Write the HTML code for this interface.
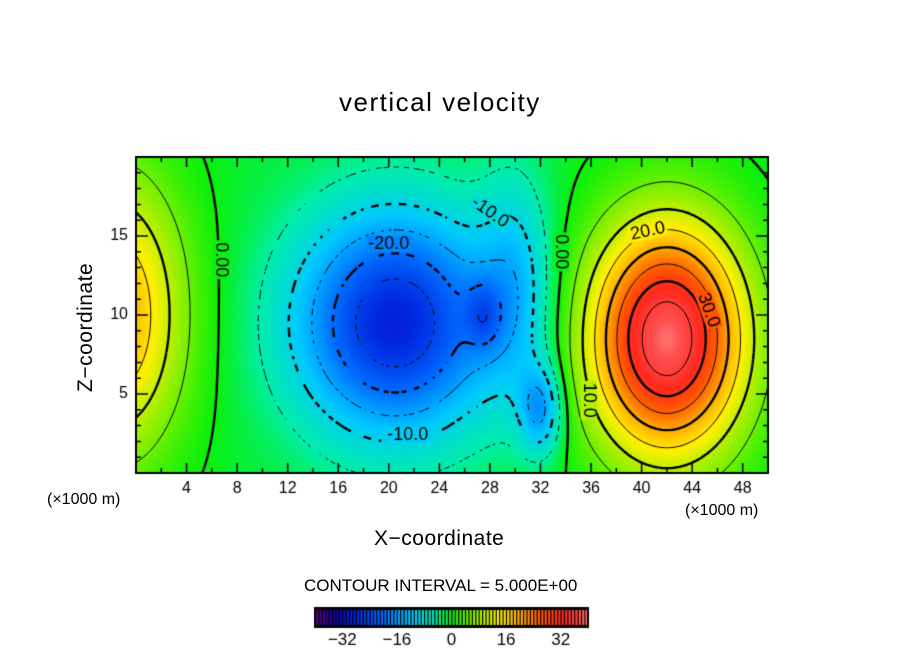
<!DOCTYPE html>
<html><head><meta charset="utf-8"><style>
body{margin:0;background:#fff;width:904px;height:654px;overflow:hidden;position:relative;font-family:"Liberation Sans",sans-serif}
.t{position:absolute;white-space:nowrap;color:#000}
canvas{position:absolute;left:0;top:0}
</style></head><body>
<canvas id="c" width="904" height="654"></canvas>
<div class="t" style="left:339px;top:87px;font-size:26px;letter-spacing:1.5px">vertical velocity</div>
<div class="t" style="left:374px;top:527px;font-size:21px;letter-spacing:0.5px">X−coordinate</div>
<div class="t" style="left:74px;top:392px;font-size:21px;letter-spacing:0.5px;transform:rotate(-90deg);transform-origin:0 0">Z−coordinate</div>
<div class="t" style="left:47px;top:491px;font-size:16px">(×1000 m)</div>
<div class="t" style="left:685px;top:502px;font-size:16px">(×1000 m)</div>
<div class="t" style="left:304px;top:576px;font-size:17px">CONTOUR INTERVAL = 5.000E+00</div>
<script>
// field model: Gaussian cells (x km, z km, amplitude, sigma x, sigma z)
const cellX=[-2,20.5,32,27.5,42,30];
const cellZ=[10,9.5,4,10,8.5,12];
const cellAmp=[22,-28,-14,-8,40,-9];
const cellSx=[4,5.6,1.2,1,4.3,2];
const cellSz=[6.1,5.0,2,1.5,5.1,5];
const background=-1;
const xTicks=[4,8,12,16,20,24,28,32,36,40,44,48];
const zTicks=[5,10,15];
const barTicks=[-32,-16,0,16,32];
const levels=[-35,-30,-25,-20,-15,-10,-5,0,5,10,15,20,25,30,35];
const contourLabels=[["0.00",6.7,13.5,90],["-20.0",20,14.5,0],["-10.0",28,16.5,35],["-10.0",21.5,2.4,0],["0.00",33.6,14,90],["10.0",35.8,4.6,90],["20.0",40.5,15.3,-12],["30.0",45.3,10.3,70]];

const X0=136,X1=768,Y0=157,Y1=473,XMAX=50,ZMAX=20;
const sx=x=>X0+(x/XMAX)*(X1-X0), sz=z=>Y1-(z/ZMAX)*(Y1-Y0);
function field(x,z){let v=background;for(let i=0;i<cellX.length;i++){const dx=(x-cellX[i])/cellSx[i],dz=(z-cellZ[i])/cellSz[i];v+=cellAmp[i]*Math.exp(-0.5*(dx*dx+dz*dz));}return v;}
const stops=[[-40,90,0,130],[-34,20,0,160],[-28,0,40,225],[-20,0,110,255],[-12,0,200,255],[-5,0,238,170],[0,10,240,10],[6,130,240,0],[14,255,240,0],[20,255,170,0],[26,255,90,0],[32,255,40,30],[38,255,80,80],[40,255,140,140]];
function col(v){if(v<=stops[0][0])return stops[0].slice(1);for(let i=1;i<stops.length;i++){if(v<=stops[i][0]){const a=stops[i-1],b=stops[i],t=(v-a[0])/(b[0]-a[0]);return [0,1,2].map(k=>Math.round(a[k+1]+t*(b[k+1]-a[k+1])));}}return stops[stops.length-1].slice(1);}
const c=document.getElementById('c'),g=c.getContext('2d');
const W=X1-X0,H=Y1-Y0,img=g.createImageData(W,H);
for(let j=0;j<H;j++)for(let i=0;i<W;i++){const v=field((i+.5)/W*XMAX,(H-j-.5)/H*ZMAX),q=col(v),p=(j*W+i)*4;img.data[p]=q[0];img.data[p+1]=q[1];img.data[p+2]=q[2];img.data[p+3]=255;}
g.putImageData(img,X0,Y0);
// contours (marching squares)
const N=250,M=100,gv=[];
for(let j=0;j<=M;j++){gv[j]=[];for(let i=0;i<=N;i++)gv[j][i]=field(i/N*XMAX,j/M*ZMAX);}
g.save();g.beginPath();g.rect(X0,Y0,W,H);g.clip();g.strokeStyle='#000';
levels.forEach(L=>{
 const thick=L%10===0;g.lineWidth=thick?2.4:1;
 const P=thick?7:5;
 g.beginPath();
 for(let j=0;j<M;j++)for(let i=0;i<N;i++){
  const p=[[i,j,gv[j][i]],[i+1,j,gv[j][i+1]],[i+1,j+1,gv[j+1][i+1]],[i,j+1,gv[j+1][i]]],pts=[];
  for(let k=0;k<4;k++){const a=p[k],b=p[(k+1)%4];if((a[2]<L)!==(b[2]<L)){const t=(L-a[2])/(b[2]-a[2]);pts.push([a[0]+t*(b[0]-a[0]),a[1]+t*(b[1]-a[1])]);}}
  for(let k=0;k+1<pts.length;k+=2){
   const ax=sx(pts[k][0]/N*XMAX),ay=sz(pts[k][1]/M*ZMAX),bx2=sx(pts[k+1][0]/N*XMAX),by=sz(pts[k+1][1]/M*ZMAX);
   if(L<0){const mx=(ax+bx2)/2,my=(ay+by)/2;if((Math.floor(mx/P)+Math.floor(my/P))%2!==0)continue;}
   g.moveTo(ax,ay);g.lineTo(bx2,by);}
 }
 g.stroke();
});
g.restore();
// labels
contourLabels.forEach(l=>{g.save();g.translate(sx(l[1]),sz(l[2]));g.rotate(l[3]*Math.PI/180);g.font='18px "Liberation Sans",sans-serif';g.textAlign='center';g.textBaseline='middle';const w=g.measureText(l[0]).width;const v=field(l[1],l[2]);const q=col(v);g.fillStyle=`rgb(${q})`;g.fillRect(-w/2-2,-8,w+4,16);g.fillStyle='#000';g.fillText(l[0],0,0);g.restore();});
// frame & ticks
g.strokeStyle='#000';g.lineWidth=2;g.strokeRect(X0,Y0,W,H);g.lineWidth=1.5;g.beginPath();
for(let x=2;x<XMAX;x+=2){const L=x%4===0?10:5;g.moveTo(sx(x),Y1);g.lineTo(sx(x),Y1-L);g.moveTo(sx(x),Y0);g.lineTo(sx(x),Y0+L);}
for(let z=1;z<ZMAX;z++){const L=z%5===0?12:5;g.moveTo(X0,sz(z));g.lineTo(X0+L,sz(z));g.moveTo(X1,sz(z));g.lineTo(X1-L,sz(z));}
g.stroke();
g.fillStyle='#000';g.font='16px "Liberation Sans",sans-serif';g.textAlign='center';g.textBaseline='top';
xTicks.forEach(x=>g.fillText(String(x),sx(x),481));
g.textAlign='right';g.textBaseline='middle';
zTicks.forEach(z=>g.fillText(String(z),128,sz(z)));
// colorbar
const B0=315,B1=588,BY=608,BH=19,bx=v=>B0+(v+40)/80*(B1-B0);
g.fillStyle='#000';g.fillRect(B0,BY,B1-B0,BH);
for(let v=-40;v<40;v++){const q=col(v+0.5);g.fillStyle=`rgb(${q})`;g.fillRect(bx(v)+1,BY+2,Math.max(1,bx(v+1)-bx(v)-1.2),BH-4);}
g.lineWidth=2;g.strokeRect(B0,BY,B1-B0,BH);
g.fillStyle='#000';g.textAlign='center';g.textBaseline='top';g.font='17px "Liberation Sans",sans-serif';
barTicks.forEach(v=>g.fillText(v<0?'−'+(-v):String(v),bx(v),632));
</script>
</body></html>
